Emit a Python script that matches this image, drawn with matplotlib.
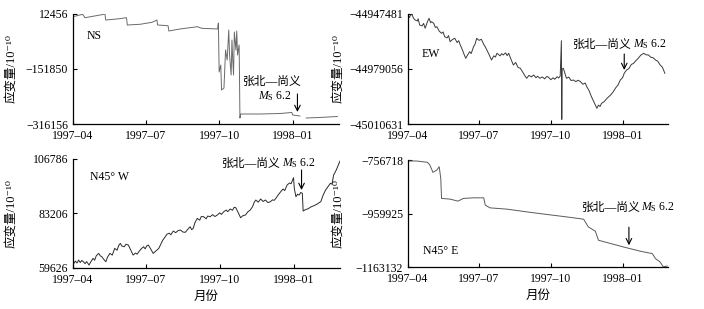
import numpy as np
import pandas as pd
import matplotlib
matplotlib.use("Agg")
import matplotlib.pyplot as plt
import matplotlib.dates as mdates

plt.rcParams['font.family'] = ['Liberation Serif', 'DejaVu Serif', 'Noto Sans CJK SC']
plt.rcParams['mathtext.fontset'] = 'custom'
plt.rcParams['mathtext.rm'] = 'Liberation Serif'
plt.rcParams['mathtext.it'] = 'Liberation Serif:italic'

# time axis: days counted from 1997-04-01
start = pd.Timestamp('1997-04-01')
x_end_day = 333
tick_dates = ['1997-04-01', '1997-07-01', '1997-10-01', '1998-01-01']
tick_labels = ['1997–04', '1997–07', '1997–10', '1998–01']

# NS component (10^-10)
ns_day = [0, 12, 15, 27, 40, 41, 55, 67, 68, 84, 99, 105, 106, 119, 120, 134, 156, 161, 181,
          182, 183, 185, 186, 189, 191, 193, 195, 196, 198, 199, 200, 201, 202, 204, 205, 206,
          208, 209, 210, 234, 259, 274, 275, 284, 288, 292, 309, 331]
ns_val = [4400, 11500, 1400, 6500, 12000, -5500, -2500, 1400, -20400, -18300, -12300, -5500,
          -20400, -22500, -38300, -32300, -25500, -30300, -32300, -14400, -160800, -140000,
          -214600, -208600, -95100, -125000, -35300, -110000, -169700, -65200, -125000,
          -169700, -41300, -95100, -38300, -110000, -80100, -298200, -286300, -286300,
          -284800, -281800, -289200, -292200, np.nan, -298200, -296700, -293700]
ns_ticks = [-316156, -151850, 12456]

# EW component
ew_day = [0, 2, 3, 5, 7, 9, 12, 13, 15, 18, 20, 22, 24, 25, 27, 29, 30, 33, 35, 37, 40, 43,
          45, 47, 50, 52, 54, 57, 60, 63, 65, 67, 70, 72, 74, 76, 79, 81, 84, 86, 88, 91, 94,
          97, 99, 101, 104, 107, 110, 112, 114, 118, 120, 122, 125, 127, 129, 132, 135, 138,
          141, 144, 147, 150, 152, 155, 158, 161, 164, 166, 169, 172, 175, 178, 180, 183, 186,
          188, 191, 193, 195, 196.5, 197, 197.5, 199, 201, 203, 206, 209, 212, 215, 218, 221,
          224, 227, 229, 232, 235, 237, 240, 242, 244, 246, 248, 251, 253, 255, 258, 260, 263,
          266, 269, 272, 275, 277, 280, 283, 286, 289, 292, 295, 298, 300, 302, 305, 308, 311,
          314, 317, 320, 323, 326, 329]
ew_val = [-44948055, -44949500, -44948300, -44947600, -44949800, -44950925, -44951500,
          -44950200, -44953795, -44954300, -44952900, -44955690, -44953000, -44951800,
          -44949950, -44952500, -44951900, -44952800, -44955200, -44954770, -44957300,
          -44958560, -44957800, -44960510, -44961200, -44959900, -44963380, -44962100,
          -44961430, -44963900, -44962800, -44965275, -44968400, -44970800, -44972910,
          -44971300, -44969120, -44970200, -44966250, -44964700, -44961430, -44962600,
          -44962000, -44964900, -44966300, -44968145, -44970900, -44973885, -44971500,
          -44972200, -44970040, -44971500, -44970200, -44971015, -44969800, -44971400,
          -44970040, -44973500, -44976755, -44975300, -44978200, -44978650, -44980900,
          -44983100, -44984390, -44982700, -44983600, -44982495, -44984100, -44983200,
          -44984390, -44983600, -44984700, -44983300, -44983815, -44985200, -44984100,
          -44984960, -44983500, -44984200, -44983070, -44962805, -45008000, -44979000,
          -44978650, -44981500, -44984390, -44983700, -44985700, -44985365, -44986300,
          -44985500, -44986340, -44987800, -44987100, -44989210, -44991500, -44994950,
          -44996800, -44999715, -45001610, -44999800, -45000600, -44998740, -44997900,
          -44996900, -44995870, -44994600, -44993800, -44992080, -44989900, -44988300,
          -44985365, -44984000, -44981500, -44979625, -44978800, -44976500, -44975780,
          -44974200, -44972910, -44971200, -44970600, -44970040, -44970900, -44971015,
          -44972300, -44972600, -44973885, -44974600, -44976755, -44978100, -44981520]
ew_ticks = [-45010631, -44979056, -44947481]

# N45°W component
nw_day = [1, 3, 5, 7, 9, 11, 13, 15, 17, 20, 22, 25, 27, 29, 32, 34, 36, 38, 41, 43, 46, 49,
          52, 55, 57, 59, 61, 64, 66, 69, 72, 75, 78, 80, 82, 85, 88, 90, 92, 94, 97, 100, 103,
          105, 107, 110, 112, 115, 117, 120, 122, 125, 128, 131, 134, 137, 140, 143, 146, 148,
          150, 152, 155, 158, 160, 163, 166, 168, 171, 174, 177, 180, 183, 185, 188, 191, 193,
          196, 199, 201, 203, 206, 209, 212, 215, 218, 221, 224, 226, 228, 231, 234, 237, 240,
          243, 246, 249, 251, 253, 256, 259, 262, 264, 267, 270, 272, 275, 276, 278, 280, 282,
          284, 286, 287, 290, 292, 294, 297, 300, 302, 305, 307, 309, 312, 315, 318, 321, 323,
          325, 328, 330, 333]
nw_val = [61600, 62600, 61800, 63050, 62000, 62900, 62320, 61500, 62400, 60900, 62200, 63790,
          63000, 64900, 65950, 64900, 64480, 63500, 62320, 64300, 65950, 65200, 68120, 67300,
          69400, 70280, 69100, 68810, 69900, 69550, 67400, 65220, 66100, 65600, 66650, 67900,
          68810, 67900, 69200, 69550, 67800, 65950, 66900, 67500, 68120, 70300, 71710, 73100,
          74180, 74700, 74000, 75610, 74900, 75800, 76040, 75200, 75050, 76300, 77470, 76200,
          76780, 79200, 81110, 80300, 81900, 81800, 80900, 82100, 81800, 82700, 81900, 82540,
          83500, 82800, 83970, 84700, 84000, 85140, 84600, 85900, 85700, 83600, 81370, 82300,
          82540, 83900, 84700, 86200, 88100, 89030, 88100, 89470, 88400, 89030, 87900, 88300,
          89100, 88900, 89770, 91300, 92620, 93800, 93100, 95530, 96400, 96100, 98690, 94000,
          90460, 91500, 91200, 92300, 91930, 84270, 84900, 85100, 85440, 86100, 86500, 86870,
          87400, 87900, 88300, 91200, 93360, 94800, 96260, 95900, 99860, 101800, 103400,
          105920]
nw_ticks = [59626, 83206, 106786]

# N45°E component
ne_day = [0, 11, 25, 28, 32, 37, 40, 42, 43, 54, 64, 71, 84, 97, 99, 105, 127, 152, 178, 203,
          225, 231, 240, 244, 255, 276, 298, 313, 317, 323, 327, 332]
ne_val = [-760530, -760530, -765480, -775770, -803580, -794820, -782250, -826440, -902640,
          -905310, -912930, -902640, -900360, -900360, -928170, -938450, -943410, -953700,
          -963600, -972750, -981510, -1010840, -1027230, -1061520, -1070280, -1087050,
          -1103430, -1112190, -1131240, -1144190, -1162500, -1159440]
ne_ticks = [-1163132, -959925, -756718]


def days_to_num(days):
    return mdates.date2num(start + pd.to_timedelta(np.asarray(days, dtype=float), unit='D'))


def setup(ax, days, vals, yticks, color, label_x):
    ax.plot(days_to_num(days), vals, color=color, lw=0.7)
    ax.set_xlim(days_to_num([0, x_end_day]))
    ax.set_ylim(yticks[0], yticks[-1])
    ax.set_xticks(mdates.date2num(pd.to_datetime(tick_dates)))
    ax.set_xticklabels(tick_labels)
    ax.set_yticks(yticks)
    ax.set_yticklabels([str(v).replace('-', '−') for v in yticks])
    ax.tick_params(direction='in', length=3, width=0.8, labelsize=8.5, pad=4)
    ax.tick_params(axis='y', pad=3.5)
    for side in ['top', 'right']:
        ax.spines[side].set_visible(False)
    for side in ['left', 'bottom']:
        ax.spines[side].set_linewidth(0.9)
    ax.set_ylabel('应变量/10⁻¹⁰', fontsize=9)
    ax.yaxis.set_label_coords(label_x, 0.5)


def arrow(ax, day, tail_y, tip_y):
    x = days_to_num([day])[0]
    ax.annotate('', xy=(x, tip_y), xytext=(x, tail_y),
                arrowprops=dict(arrowstyle='->', color='black', lw=0.8,
                                shrinkA=0, shrinkB=0))


def quake_two_lines(ax, text_day, text_y, ms_day, ms_y):
    ax.text(days_to_num([text_day])[0], text_y, '张北—尚义', fontsize=8.5,
            va='baseline', ha='left')
    ax.text(days_to_num([ms_day])[0], ms_y, r'$M_{\mathrm{S}}$ 6.2', fontsize=8.5,
            va='baseline', ha='left')


def quake_one_line(ax, text_day, text_y):
    t1 = ax.text(days_to_num([text_day])[0], text_y, '张北—尚义', fontsize=8.5,
                 va='baseline', ha='left')
    ax.annotate(r'$M_{\mathrm{S}}$ 6.2', xy=(1, 0), xycoords=t1, xytext=(0.5, 0),
                textcoords='offset points', fontsize=8.5, va='bottom', ha='left')


fig = plt.figure(figsize=(7.04, 3.09), dpi=100)
ax_ns = fig.add_axes([0.1037, 0.5987, 0.3778, 0.356])
ax_ew = fig.add_axes([0.5795, 0.5987, 0.3693, 0.356])
ax_nw = fig.add_axes([0.1037, 0.1327, 0.3793, 0.3528])
ax_ne = fig.add_axes([0.5795, 0.1359, 0.3693, 0.3463])

setup(ax_ns, ns_day, ns_val, ns_ticks, '#6a6a6a', -0.21)
setup(ax_ew, ew_day, ew_val, ew_ticks, '#3a3a3a', -0.246)
setup(ax_nw, nw_day, nw_val, nw_ticks, '#2a2a2a', -0.21)
setup(ax_ne, ne_day, ne_val, ne_ticks, '#5a5a5a', -0.246)

ax_ns.text(0.053, 0.8, 'NS', transform=ax_ns.transAxes, fontsize=8.5, va='center')
ax_ew.text(0.053, 0.636, 'EW', transform=ax_ew.transAxes, fontsize=8.5, va='center')
ax_nw.text(0.064, 0.835, 'N45° W', transform=ax_nw.transAxes, fontsize=8.5, va='center')
ax_ne.text(0.056, 0.15, 'N45° E', transform=ax_ne.transAxes, fontsize=8.5, va='center')

quake_two_lines(ax_ns, 212.5, -199620, 231, -242330)
arrow(ax_ns, 281, -226500, -280270)
quake_one_line(ax_ew, 211.5, -44967170)
arrow(ax_ew, 277, -44970440, -44979625)
quake_one_line(ax_nw, 186, 103450)
arrow(ax_nw, 285, 102020, 93360)
quake_one_line(ax_ne, 222.7, -949880)
arrow(ax_ne, 283, -1011990, -1080570)

for ax in (ax_nw, ax_ne):
    ax.set_xlabel('月份', fontsize=9, labelpad=4)

fig.savefig('out.png', dpi=100)
